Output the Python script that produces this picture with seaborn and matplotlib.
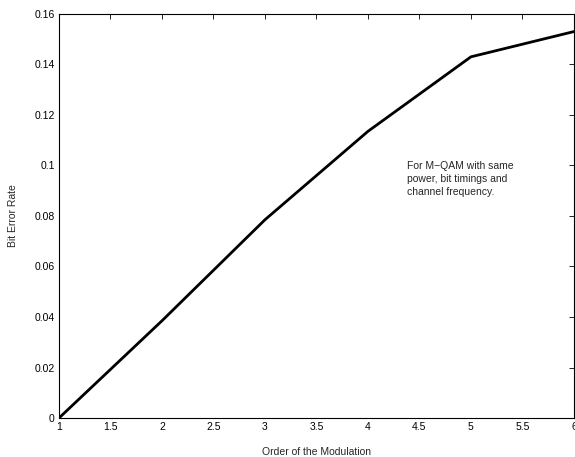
import matplotlib
matplotlib.use("Agg")
import matplotlib.pyplot as plt
import seaborn as sns
import pandas as pd

order = [1, 2, 3, 4, 5, 6]
ber = [0.0, 0.0385, 0.0785, 0.1135, 0.143, 0.153]
xticks = [1, 1.5, 2, 2.5, 3, 3.5, 4, 4.5, 5, 5.5, 6]
yticks = [0, 0.02, 0.04, 0.06, 0.08, 0.1, 0.12, 0.14, 0.16]
ytick_labels = ["0", "0.02", "0.04", "0.06", "0.08", "0.1", "0.12", "0.14", "0.16"]
xtick_labels = ["1", "1.5", "2", "2.5", "3", "3.5", "4", "4.5", "5", "5.5", "6"]

sns.set_style("white")
plt.rcParams['font.family'] = ['Liberation Sans', 'DejaVu Sans']

df = pd.DataFrame({"order": order, "ber": ber})
fig = plt.figure(figsize=(5.75, 4.57), dpi=100)
ax = fig.add_axes([0.1026, 0.0853, 0.8955, 0.8843])
sns.lineplot(data=df, x="order", y="ber", color="black", linewidth=2, ax=ax)
ax.set_xlim(1, 6)
ax.set_ylim(0, 0.16)
ax.set_xticks(xticks)
ax.set_xticklabels(xtick_labels)
ax.set_yticks(yticks)
ax.set_yticklabels(ytick_labels)
ax.tick_params(direction="in", top=True, right=True, length=3.6, width=0.6,
               labelsize=7.5, pad=3, colors="black")
for s in ax.spines.values():
    s.set_visible(True)
    s.set_color("black")
    s.set_linewidth(0.8)
ax.set_xlabel("Order of the Modulation", fontsize=7.5, labelpad=11)
ax.set_ylabel("Bit Error Rate", fontsize=7.5, labelpad=12)
ax.text(4.38, 0.1018, "For M\u2212QAM with same\npower, bit timings and\nchannel frequency.",
        fontsize=7.5, va="top", ha="left", linespacing=1.4)
ax.grid(False)
fig.savefig("out.png", dpi=100)
